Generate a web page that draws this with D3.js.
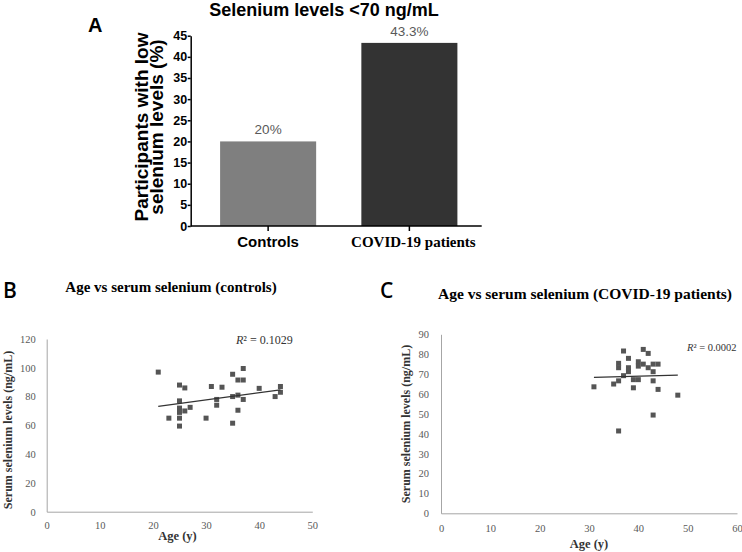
<!DOCTYPE html>
<html>
<head>
<meta charset="utf-8">
<script src="https://cdn.jsdelivr.net/npm/d3@7"></script>
<style>
  html, body { margin: 0; padding: 0; background: #fff; }
  svg { display: block; }
</style>
</head>
<body>
<svg id="chart" width="742" height="552"></svg>
<script>
// ---------- Panel A data ----------
const barCategories = ["Controls", "COVID-19 patients"];
const barValues = [20, 43.3];
const barLabels = ["20%", "43.3%"];
const barYTicks = [0, 5, 10, 15, 20, 25, 30, 35, 40, 45];

// ---------- Panel B data (controls) ----------
const controlsAge = [21, 23, 25, 25, 25, 25, 25, 25, 26, 26, 27, 30, 31, 32, 32, 33, 35, 35, 35, 36, 36, 36, 37, 37, 37, 40, 43, 44, 44];
const controlsSe  = [97, 65, 88, 77, 72, 69, 65, 59.5, 86, 70, 72.5, 65, 87, 78, 74, 86.5, 95.5, 80, 61.5, 91.5, 81, 70.5, 99.5, 91.5, 78, 85.7, 80, 87, 83];
const controlsTrendAge = [21, 44];
const controlsTrendSe = [73.2, 84.7];
const controlsXTicks = [0, 10, 20, 30, 40, 50];
const controlsYTicks = [0, 20, 40, 60, 80, 100, 120];

// ---------- Panel C data (COVID-19 patients) ----------
const patientsAge = [31, 35, 36, 36, 36, 36, 37, 37, 38, 38, 38, 39, 39, 40, 40, 40, 41, 41, 42, 42, 43, 44, 43, 43, 44, 48, 43];
const patientsSe  = [63.6, 65, 66.6, 75.4, 73.2, 41.4, 81.6, 69.2, 77.9, 73.2, 71.2, 63.1, 67.2, 67.2, 76.2, 74, 82.4, 75, 80.4, 73.2, 75, 75, 71.2, 66.6, 62.3, 59.4, 49.4];
const patientsTrendAge = [31, 48];
const patientsTrendSe = [68.3, 69.5];
const patientsXTicks = [0, 10, 20, 30, 40, 50, 60];
const patientsYTicks = [0, 10, 20, 30, 40, 50, 60, 70, 80, 90];

const SANS = "'Liberation Sans', Arial, sans-serif";
const SERIF = "'Liberation Serif', 'Times New Roman', serif";

const svg = d3.select("#chart");
svg.append("rect").attr("width", 742).attr("height", 552).attr("fill", "#fff");

// ================= Panel A =================
(function () {
  const g = svg.append("g");
  const x = d3.scaleBand().domain(barCategories).range([197.5, 480]).paddingInner(0.32).paddingOuter(0.16);
  const y = d3.scaleLinear().domain([0, 45]).range([226, 35.7]);
  const barColors = ["#7f7f7f", "#333333"];

  g.selectAll("rect.bar").data(barCategories).join("rect")
    .attr("class", "bar")
    .attr("x", d => x(d))
    .attr("width", x.bandwidth())
    .attr("y", (d, i) => y(barValues[i]))
    .attr("height", (d, i) => y(0) - y(barValues[i]))
    .attr("fill", (d, i) => barColors[i]);

  g.selectAll("text.val").data(barCategories).join("text")
    .attr("class", "val")
    .attr("x", d => x(d) + x.bandwidth() / 2)
    .attr("y", (d, i) => y(barValues[i]) - 7)
    .attr("text-anchor", "middle")
    .attr("font-family", SANS)
    .attr("font-size", 13.5)
    .attr("fill", "#595959")
    .text((d, i) => barLabels[i]);

  // y axis
  const yAxis = d3.axisLeft(y).tickValues(barYTicks).tickSize(3).tickSizeOuter(0).tickPadding(0.5);
  const ya = g.append("g").attr("transform", "translate(190.7,0)").call(yAxis);
  ya.select(".domain").attr("stroke", "#000").attr("stroke-width", 1.5);
  ya.selectAll(".tick line").attr("stroke", "#000").attr("stroke-width", 1.5);
  ya.selectAll(".tick text").attr("font-family", SANS).attr("font-weight", "bold")
    .attr("font-size", 12.5).attr("fill", "#000");

  // x axis
  const xAxis = d3.axisBottom(x).tickSize(5).tickSizeOuter(0).tickFormat("");
  const xa = g.append("g").attr("transform", "translate(0,226)").call(xAxis);
  xa.select(".domain").remove();
  xa.selectAll(".tick line").attr("stroke", "#000").attr("stroke-width", 1.5);
  g.append("line").attr("x1", 190.7).attr("x2", 481.7).attr("y1", 226).attr("y2", 226)
    .attr("stroke", "#000").attr("stroke-width", 1.5);

  // category labels
  g.append("text").attr("x", x(barCategories[0]) + x.bandwidth() / 2).attr("y", 247)
    .attr("text-anchor", "middle").attr("font-family", SANS).attr("font-weight", "bold")
    .attr("font-size", 15).text(barCategories[0]);
  g.append("text").attr("x", x(barCategories[1]) + x.bandwidth() / 2 + 4).attr("y", 247)
    .attr("text-anchor", "middle").attr("font-family", SERIF).attr("font-weight", "bold")
    .attr("font-size", 15).text(barCategories[1]);

  // y title
  const yt = g.append("text").attr("transform", "translate(0,127) rotate(-90)")
    .attr("text-anchor", "middle").attr("font-family", SANS).attr("font-weight", "bold")
    .attr("font-size", 19);
  yt.append("tspan").attr("x", 0).attr("y", 147.5).text("Participants with low");
  yt.append("tspan").attr("x", 0).attr("y", 163).text("selenium levels (%)");

  // title
  g.append("text").attr("x", 324).attr("y", 16).attr("text-anchor", "middle")
    .attr("font-family", SANS).attr("font-weight", "bold").attr("font-size", 18)
    .text("Selenium levels <70 ng/mL");
  g.append("text").attr("x", 88).attr("y", 32).attr("font-family", SANS)
    .attr("font-weight", "bold").attr("font-size", 20).text("A");
})();

// ================= Scatter panels =================
function scatter(opts) {
  const g = svg.append("g");
  const x = d3.scaleLinear().domain(opts.xDomain).range(opts.xRange);
  const y = d3.scaleLinear().domain(opts.yDomain).range(opts.yRange);

  const xa = g.append("g").attr("transform", `translate(0,${opts.yRange[0]})`)
    .call(d3.axisBottom(x).tickValues(opts.xTicks).tickSize(0).tickPadding(opts.xPad));
  const ya = g.append("g").attr("transform", `translate(${opts.xRange[0]},0)`)
    .call(d3.axisLeft(y).tickValues(opts.yTicks).tickSize(0).tickPadding(opts.yPad));
  [xa, ya].forEach(a => {
    a.select(".domain").attr("stroke", "#a6a6a6").attr("stroke-width", 1);
    a.selectAll(".tick text").attr("font-family", SERIF).attr("font-size", 10.5).attr("fill", "#595959");
  });

  const pts = opts.ages.map((a, i) => [a, opts.values[i]]);
  const s = 5;
  g.selectAll("rect.pt").data(pts).join("rect")
    .attr("class", "pt")
    .attr("x", d => x(d[0]) - s / 2)
    .attr("y", d => y(d[1]) - s / 2)
    .attr("width", s).attr("height", s)
    .attr("fill", "#555555");

  g.append("line")
    .attr("x1", x(opts.trendAge[0])).attr("y1", y(opts.trendSe[0]))
    .attr("x2", x(opts.trendAge[1])).attr("y2", y(opts.trendSe[1]))
    .attr("stroke", "#333").attr("stroke-width", 1.2);

  const r = g.append("text").attr("x", opts.r2x).attr("y", opts.r2y)
    .attr("font-family", SERIF).attr("font-size", opts.r2Size).attr("fill", "#333");
  r.append("tspan").attr("font-style", "italic").text("R");
  r.append("tspan").text("² = " + opts.r2);

  g.append("text").attr("x", (opts.xRange[0] + opts.xRange[1]) / 2 + opts.xtOff).attr("y", opts.xtY)
    .attr("text-anchor", "middle").attr("font-family", SERIF).attr("font-weight", "bold")
    .attr("font-size", 12.5).attr("fill", "#333").text("Age (y)");
  g.append("text").attr("transform", `translate(${opts.ytX},${opts.ytYc}) rotate(-90)`)
    .attr("text-anchor", "middle").attr("dominant-baseline", "central")
    .attr("font-family", SERIF).attr("font-weight", "bold").attr("font-size", 12)
    .attr("fill", "#333").text("Serum selenium levels (ng/mL)");

  g.append("text").attr("x", opts.titleX).attr("y", opts.titleY).attr("text-anchor", "middle")
    .attr("font-family", SERIF).attr("font-weight", "bold").attr("font-size", opts.titleSize)
    .attr("fill", "#000").text(opts.title);
  g.append("text").attr("x", opts.letterX).attr("y", opts.letterY)
    .attr("font-family", "'Open Sans', 'Liberation Sans', sans-serif").attr("font-size", 21)
    .attr("font-weight", 600)
    .attr("fill", "#000").text(opts.letter);
}

scatter({
  xDomain: [0, 50], xRange: [46.7, 312.3],
  yDomain: [0, 120], yRange: [511.7, 339],
  xTicks: controlsXTicks, yTicks: controlsYTicks, xPad: 10, yPad: 11,
  ages: controlsAge, values: controlsSe,
  trendAge: controlsTrendAge, trendSe: controlsTrendSe,
  r2: "0.1029", r2x: 236, r2y: 343.5, r2Size: 12,
  xtY: 540, xtOff: -2, ytX: 7.5, ytYc: 430,
  title: "Age vs serum selenium (controls)", titleX: 171, titleY: 291.5, titleSize: 15,
  letter: "B", letterX: 3, letterY: 298
});

scatter({
  xDomain: [0, 60], xRange: [441, 737],
  yDomain: [0, 90], yRange: [513.3, 334.3],
  xTicks: patientsXTicks, yTicks: patientsYTicks, xPad: 11, yPad: 12,
  ages: patientsAge, values: patientsSe,
  trendAge: patientsTrendAge, trendSe: patientsTrendSe,
  r2: "0.0002", r2x: 687, r2y: 351, r2Size: 10.5,
  xtY: 548, xtOff: 0, ytX: 406, ytYc: 424,
  title: "Age vs serum selenium (COVID-19 patients)", titleX: 585, titleY: 298.5, titleSize: 15.5,
  letter: "C", letterX: 380, letterY: 298
});
</script>
</body>
</html>
